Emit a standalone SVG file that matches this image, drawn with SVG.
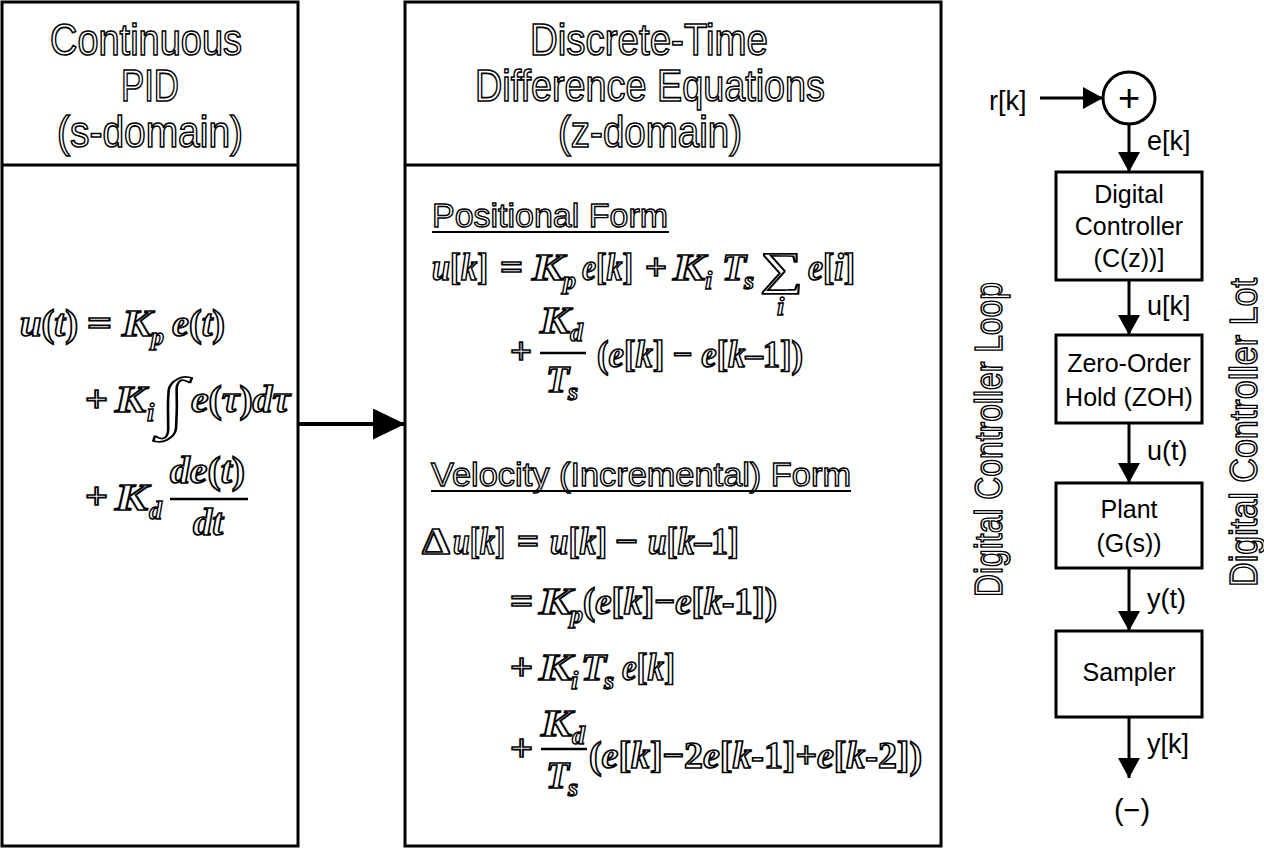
<svg xmlns="http://www.w3.org/2000/svg" width="1264" height="848" viewBox="0 0 1264 848">
<style>
.pan{fill:#fff;stroke:#000;stroke-width:3}
.hd{font-family:"Liberation Sans",Arial,sans-serif;font-size:44px;fill:#fff;stroke:#000;stroke-width:1.6;text-anchor:middle}
.sh{font-family:"Liberation Sans",Arial,sans-serif;font-size:34px;fill:#fff;stroke:#000;stroke-width:1.4}
.vt{font-family:"Liberation Sans",Arial,sans-serif;font-size:38px;fill:#fff;stroke:#000;stroke-width:1.5}
.m{font-family:"Liberation Serif","Times New Roman",serif;font-size:38px;font-weight:bold;fill:#fff;stroke:#000;stroke-width:1.7}
.ms{font-size:26px;stroke-width:1.4}
.i{font-style:italic}
.lb{font-family:"Liberation Sans",Arial,sans-serif;font-size:27px;fill:#000}
.bx{font-family:"Liberation Sans",Arial,sans-serif;font-size:25px;fill:#000;text-anchor:middle}
.box{fill:#fff;stroke:#000;stroke-width:3}
.ln{stroke:#000;stroke-width:3;fill:none}
.ul{stroke:#000;stroke-width:2}
.fr{stroke:#000;stroke-width:2.5}
</style>
<defs>
<marker id="ah" viewBox="0 0 10 10" refX="10" refY="5" markerUnits="userSpaceOnUse" markerWidth="20" markerHeight="22" orient="auto" preserveAspectRatio="none">
<path d="M0,0 L10,5 L0,10 z" fill="#000"/>
</marker>
<marker id="ahb" viewBox="0 0 10 10" refX="10" refY="5" markerUnits="userSpaceOnUse" markerWidth="32" markerHeight="31" orient="auto" preserveAspectRatio="none">
<path d="M0,0 L10,5 L0,10 z" fill="#000"/>
</marker>
</defs>
<rect width="1264" height="848" fill="#fff"/>

<g id="continuous-panel">
<rect class="pan" x="2" y="2" width="296" height="844"/>
<line class="ln" x1="2" y1="165" x2="298" y2="165"/>
<text class="hd" x="146" y="55" textLength="192" lengthAdjust="spacingAndGlyphs">Continuous</text>
<text class="hd" x="150" y="101" textLength="58" lengthAdjust="spacingAndGlyphs">PID</text>
<text class="hd" x="150" y="147" textLength="186" lengthAdjust="spacingAndGlyphs">(s-domain)</text>
<text class="m" x="20" y="336" textLength="58" lengthAdjust="spacingAndGlyphs"><tspan class="i">u</tspan>(<tspan class="i">t</tspan>)</text>
<text class="m" x="87" y="336" textLength="25" lengthAdjust="spacingAndGlyphs">=</text>
<text class="m i" x="122" y="336" textLength="30" lengthAdjust="spacingAndGlyphs">K</text>
<text class="m ms i" x="151" y="345">p</text>
<text class="m" x="172" y="336" textLength="53" lengthAdjust="spacingAndGlyphs"><tspan class="i">e</tspan>(<tspan class="i">t</tspan>)</text>
<text class="m" x="85" y="412" textLength="23" lengthAdjust="spacingAndGlyphs">+</text>
<text class="m i" x="115" y="412" textLength="31" lengthAdjust="spacingAndGlyphs">K</text>
<text class="m ms i" x="147" y="421">i</text>
<text class="m" x="159" y="424" style="font-size:66px;font-weight:normal" textLength="28" lengthAdjust="spacingAndGlyphs">∫</text>
<text class="m" x="191" y="412" textLength="99" lengthAdjust="spacingAndGlyphs"><tspan class="i">e</tspan>(<tspan class="i">τ</tspan>)<tspan class="i">dτ</tspan></text>
<text class="m" x="85" y="509" textLength="23" lengthAdjust="spacingAndGlyphs">+</text>
<text class="m i" x="115" y="510" textLength="33" lengthAdjust="spacingAndGlyphs">K</text>
<text class="m ms i" x="149" y="519">d</text>
<text class="m" x="170" y="483" textLength="75" lengthAdjust="spacingAndGlyphs"><tspan class="i">de</tspan>(<tspan class="i">t</tspan>)</text>
<line class="fr" x1="170" y1="499" x2="248" y2="499"/>
<text class="m i" x="193" y="535" textLength="30" lengthAdjust="spacingAndGlyphs">dt</text>
</g>

<g id="discrete-panel">
<rect class="pan" x="405" y="2" width="536" height="844"/>
<line class="ln" x1="405" y1="165" x2="941" y2="165"/>
<text class="hd" x="649" y="55" textLength="238" lengthAdjust="spacingAndGlyphs">Discrete-Time</text>
<text class="hd" x="650" y="101" textLength="350" lengthAdjust="spacingAndGlyphs">Difference Equations</text>
<text class="hd" x="650" y="147" textLength="184" lengthAdjust="spacingAndGlyphs">(z-domain)</text>

<text class="sh" x="432" y="227" textLength="236" lengthAdjust="spacingAndGlyphs">Positional Form</text>
<line class="ul" x1="432" y1="232" x2="669" y2="232"/>
<text class="m" x="432" y="280" textLength="56" lengthAdjust="spacingAndGlyphs"><tspan class="i">u</tspan>[<tspan class="i">k</tspan>]</text>
<text class="m" x="500" y="280" textLength="23" lengthAdjust="spacingAndGlyphs">=</text>
<text class="m i" x="532" y="280" textLength="32" lengthAdjust="spacingAndGlyphs">K</text>
<text class="m ms i" x="563" y="289">p</text>
<text class="m" x="582" y="280" textLength="51" lengthAdjust="spacingAndGlyphs"><tspan class="i">e</tspan>[<tspan class="i">k</tspan>]</text>
<text class="m" x="645" y="280" textLength="22" lengthAdjust="spacingAndGlyphs">+</text>
<text class="m i" x="673" y="280" textLength="32" lengthAdjust="spacingAndGlyphs">K</text>
<text class="m ms i" x="705" y="289">i</text>
<text class="m i" x="722" y="280" textLength="24" lengthAdjust="spacingAndGlyphs">T</text>
<text class="m ms i" x="744" y="289">s</text>
<text class="m" x="760" y="284" style="font-size:46px;font-weight:normal" textLength="43" lengthAdjust="spacingAndGlyphs">∑</text>
<text class="m ms i" x="777" y="315">i</text>
<text class="m" x="808" y="280" textLength="47" lengthAdjust="spacingAndGlyphs"><tspan class="i">e</tspan>[<tspan class="i">i</tspan>]</text>
<text class="m" x="510" y="364" textLength="22" lengthAdjust="spacingAndGlyphs">+</text>
<text class="m i" x="540" y="333" textLength="30" lengthAdjust="spacingAndGlyphs">K</text>
<text class="m ms i" x="570" y="341">d</text>
<line class="fr" x1="540" y1="353" x2="586" y2="353"/>
<text class="m i" x="546" y="392" textLength="23" lengthAdjust="spacingAndGlyphs">T</text>
<text class="m ms i" x="568" y="400">s</text>
<text class="m" x="597" y="367" textLength="206" lengthAdjust="spacingAndGlyphs">(<tspan class="i">e</tspan>[<tspan class="i">k</tspan>] − <tspan class="i">e</tspan>[<tspan class="i">k</tspan>–1])</text>

<text class="sh" x="431" y="486" textLength="420" lengthAdjust="spacingAndGlyphs">Velocity (Incremental) Form</text>
<line class="ul" x1="431" y1="491" x2="851" y2="491"/>
<text class="m" x="422" y="554" textLength="28" lengthAdjust="spacingAndGlyphs">Δ</text>
<text class="m" x="453" y="554" textLength="52" lengthAdjust="spacingAndGlyphs"><tspan class="i">u</tspan>[<tspan class="i">k</tspan>]</text>
<text class="m" x="517" y="554" textLength="22" lengthAdjust="spacingAndGlyphs">=</text>
<text class="m" x="550" y="554" textLength="57" lengthAdjust="spacingAndGlyphs"><tspan class="i">u</tspan>[<tspan class="i">k</tspan>]</text>
<text class="m" x="615" y="554" textLength="23" lengthAdjust="spacingAndGlyphs">−</text>
<text class="m" x="648" y="554" textLength="91" lengthAdjust="spacingAndGlyphs"><tspan class="i">u</tspan>[<tspan class="i">k</tspan>–1]</text>
<text class="m" x="510" y="614" textLength="23" lengthAdjust="spacingAndGlyphs">=</text>
<text class="m i" x="539" y="614" textLength="33" lengthAdjust="spacingAndGlyphs">K</text>
<text class="m ms i" x="570" y="623">p</text>
<text class="m" x="583" y="614" textLength="194" lengthAdjust="spacingAndGlyphs">(<tspan class="i">e</tspan>[<tspan class="i">k</tspan>]−<tspan class="i">e</tspan>[<tspan class="i">k</tspan>-1])</text>
<text class="m" x="510" y="680" textLength="23" lengthAdjust="spacingAndGlyphs">+</text>
<text class="m i" x="539" y="680" textLength="33" lengthAdjust="spacingAndGlyphs">K</text>
<text class="m ms i" x="571" y="689">i</text>
<text class="m i" x="581" y="680" textLength="25" lengthAdjust="spacingAndGlyphs">T</text>
<text class="m ms i" x="604" y="689">s</text>
<text class="m" x="622" y="680" textLength="53" lengthAdjust="spacingAndGlyphs"><tspan class="i">e</tspan>[<tspan class="i">k</tspan>]</text>
<text class="m" x="510" y="761" textLength="23" lengthAdjust="spacingAndGlyphs">+</text>
<text class="m i" x="541" y="736" textLength="31" lengthAdjust="spacingAndGlyphs">K</text>
<text class="m ms i" x="572" y="744">d</text>
<line class="fr" x1="541" y1="749" x2="587" y2="749"/>
<text class="m i" x="546" y="788" textLength="23" lengthAdjust="spacingAndGlyphs">T</text>
<text class="m ms i" x="568" y="796">s</text>
<text class="m" x="589" y="768" textLength="333" lengthAdjust="spacingAndGlyphs">(<tspan class="i">e</tspan>[<tspan class="i">k</tspan>]−2<tspan class="i">e</tspan>[<tspan class="i">k</tspan>-1]+<tspan class="i">e</tspan>[<tspan class="i">k</tspan>-2])</text>
</g>

<g id="loop-labels">
<text class="vt" transform="translate(1002,597) rotate(-90)" textLength="315" lengthAdjust="spacingAndGlyphs">Digital Controller Loop</text>
<text class="vt" transform="translate(1257,587) rotate(-90)" textLength="309" lengthAdjust="spacingAndGlyphs">Digital Controller Lot</text>
</g>

<g id="summing-junction">
<circle cx="1129" cy="98" r="26" fill="#fff" stroke="#000" stroke-width="3"/>
<text x="1129" y="111" style="font-family:'Liberation Sans',Arial,sans-serif;font-size:38px;text-anchor:middle">+</text>
</g>
<g id="input-label"><text class="lb" x="989" y="110">r[k]</text></g>

<g id="controller">
<rect class="box" x="1056" y="172" width="146" height="108"/>
<text class="bx" x="1129" y="203">Digital</text>
<text class="bx" x="1129" y="235">Controller</text>
<text class="bx" x="1129" y="267">(C(z))]</text>
</g>
<g id="zoh">
<rect class="box" x="1056" y="335" width="146" height="88"/>
<text class="bx" x="1129" y="372">Zero-Order</text>
<text class="bx" x="1129" y="406">Hold (ZOH)</text>
</g>
<g id="plant">
<rect class="box" x="1056" y="483" width="146" height="85"/>
<text class="bx" x="1129" y="518">Plant</text>
<text class="bx" x="1129" y="552">(G(s))</text>
</g>
<g id="sampler">
<rect class="box" x="1056" y="631" width="146" height="86"/>
<text class="bx" x="1129" y="681">Sampler</text>
</g>
<g id="feedback-sign"><text class="lb" x="1132" y="820" style="text-anchor:middle;font-size:29px">(−)</text></g>

<g id="connectors">
<line class="ln" x1="298" y1="424" x2="405" y2="424" style="stroke-width:4" marker-end="url(#ahb)"/>
<line class="ln" x1="1040" y1="98" x2="1103" y2="98" marker-end="url(#ah)"/>
<line class="ln" x1="1129" y1="124" x2="1129" y2="172" marker-end="url(#ah)"/>
<line class="ln" x1="1129" y1="280" x2="1129" y2="335" marker-end="url(#ah)"/>
<line class="ln" x1="1129" y1="423" x2="1129" y2="483" marker-end="url(#ah)"/>
<line class="ln" x1="1129" y1="568" x2="1129" y2="631" marker-end="url(#ah)"/>
<line class="ln" x1="1129" y1="717" x2="1129" y2="778" marker-end="url(#ah)"/>
<text class="lb" x="1147" y="150">e[k]</text>
<text class="lb" x="1147" y="315">u[k]</text>
<text class="lb" x="1147" y="460">u(t)</text>
<text class="lb" x="1147" y="608">y(t)</text>
<text class="lb" x="1147" y="753">y[k]</text>
</g>
</svg>
